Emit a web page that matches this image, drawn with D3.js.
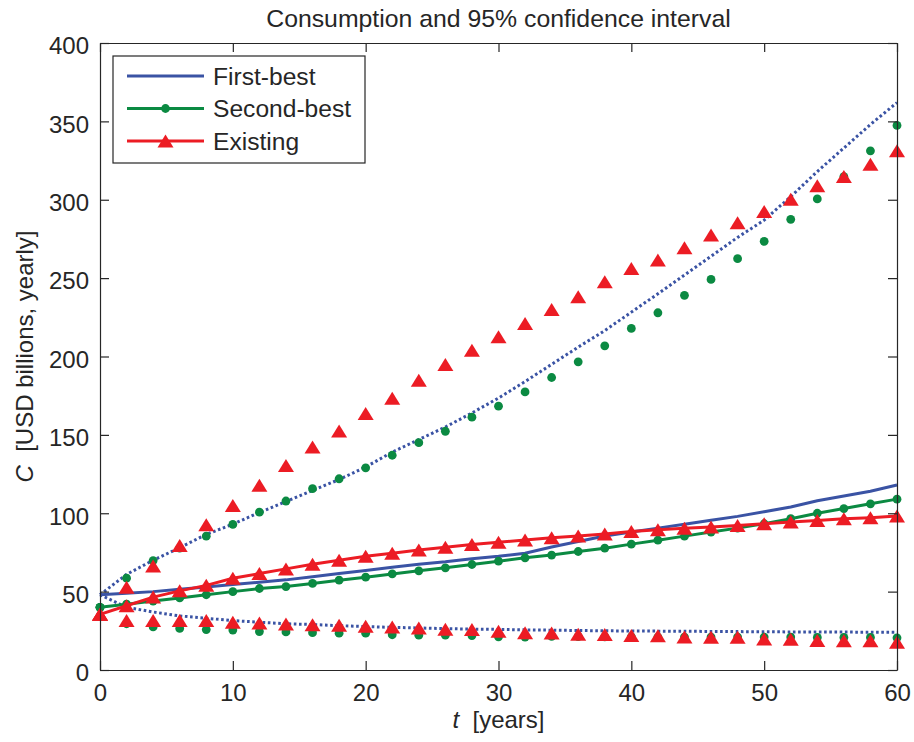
<!DOCTYPE html>
<html>
<head>
<meta charset="utf-8">
<script src="https://cdn.jsdelivr.net/npm/d3@7"></script>
<style>
  body { margin: 0; background: #fff; }
  text { font-family: "Liberation Sans", Arial, sans-serif; fill: #262626; }
  .axis path, .axis line { stroke: #262626; stroke-width: 1.2; }
  .axis text { font-size: 24px; }
</style>
</head>
<body>
<script>
// time grid (years)
var years = [0, 2, 4, 6, 8, 10, 12, 14, 16, 18, 20, 22, 24, 26, 28, 30,
             32, 34, 36, 38, 40, 42, 44, 46, 48, 50, 52, 54, 56, 58, 60];

// mean consumption paths
var firstBest = [48, 49, 50, 51.5, 53, 54.5, 56, 57.5, 59.5, 61.5, 63.5, 65.5, 67.5, 69, 71, 72.5,
                 74.5, 78.5, 82, 85.5, 88, 90.5, 93, 95.5, 98, 101, 104, 108, 111, 114, 118];
var secondBest = [40, 42, 44, 46, 48, 50, 52, 53.2, 55.2, 57.3, 59.2, 61.3, 63.3, 65.2, 67.3, 69.4,
                  71.6, 73.3, 75.6, 77.7, 80.3, 82.8, 85.4, 88, 90.5, 93.3, 96.5, 100, 103, 106, 109];
var existing = [35.5, 41, 46.5, 50.5, 54, 58.5, 61.5, 64.5, 67.5, 70, 72.5, 74.5, 76.5, 78.3, 80, 81.5,
                83, 84.3, 85.5, 86.8, 88.3, 89.5, 90.5, 91.3, 92.2, 93.3, 94.4, 95.4, 96.5, 97.2, 98.2];

// 95% confidence bands
var firstBestUpper = [48, 61, 70, 78, 86.5, 93, 100.5, 107.5, 114.5, 121.5, 129.5, 139, 147, 155, 164, 173.5,
                      184, 195, 206, 216.5, 228.3, 240, 252, 264, 276, 287, 302, 318, 333, 348, 362];
var firstBestLower = [48, 40, 37, 34.5, 33, 31.5, 30.5, 29.5, 29, 28.3, 27.7, 27.2, 26.8, 26.4, 26.1, 25.9,
                      25.6, 25.4, 25.2, 25, 24.9, 24.8, 24.7, 24.6, 24.5, 24.4, 24.3, 24.3, 24.2, 24.1, 24];
var secondBestUpper = [40, 58.6, 69.8, 77.7, 85.4, 92.9, 100.7, 107.8, 115.7, 122, 129, 137, 145, 152.3, 161.3, 168.3,
                       177.4, 186.6, 196.6, 206.8, 217.9, 227.9, 239, 249.2, 262.4, 273.5, 287.5, 300.5, 314.8, 331.2, 347.4];
var secondBestLower = [40, 29.5, 27.5, 26.5, 25.8, 25.5, 24.5, 24.3, 23.8, 23.5, 23.5, 22.5, 22.2, 22.2, 22, 21.2,
                       21, 21.5, 21.3, 21.2, 21.2, 21, 21, 21, 21, 21, 21, 20.8, 20.8, 20.8, 20.5];
var existingUpper = [35.5, 52.8, 66.3, 79.4, 92.7, 105, 117.8, 130.5, 142.3, 152.5, 163.6, 173.4, 184.9, 194.9, 204, 212.6,
                     221.1, 230, 238.1, 247.7, 256.2, 261.5, 269.4, 277.5, 285.3, 292.5, 300.3, 309, 314.8, 322.7, 331.2];
var existingLower = [35.5, 31.5, 31.5, 31.5, 31.5, 30.5, 30, 29.4, 28.8, 28.5, 27.9, 27.5, 26.8, 26, 25.8, 24.7,
                     23.8, 23.6, 22.8, 22.6, 22, 21.9, 21, 20.9, 20.9, 19.8, 19.6, 18.8, 18.7, 18.7, 17.7];

var xTicks = [0, 10, 20, 30, 40, 50, 60];
var yTicks = [0, 50, 100, 150, 200, 250, 300, 350, 400];
var legendNames = ["First-best", "Second-best", "Existing"];

var blue = "#3a53a4", green = "#0b8a42", red = "#ec1c24";

var margin = { top: 43, right: 17, bottom: 72, left: 100 };
var width = 914 - margin.left - margin.right;
var height = 742 - margin.top - margin.bottom;

var x = d3.scaleLinear().domain([0, 60]).range([0, width]);
var y = d3.scaleLinear().domain([0, 400]).range([height, 0]);

var root = d3.select("body").append("svg")
    .attr("width", 914)
    .attr("height", 742);

var svg = root.append("g")
    .attr("transform", "translate(" + margin.left + "," + margin.top + ")");

function pairs(vals) {
  return years.map(function(t, i) { return [t, vals[i]]; });
}

var line = d3.line()
    .x(function(d) { return x(d[0]); })
    .y(function(d) { return y(d[1]); });

// triangle marker, bbox centred on the point
var tri = "M0,-6.5L8,6.5L-8,6.5Z";

function drawLine(vals, color, dotted) {
  var p = svg.append("path")
      .datum(pairs(vals))
      .attr("fill", "none")
      .attr("stroke", color)
      .attr("stroke-width", 3)
      .attr("d", line);
  if (dotted) p.attr("stroke-dasharray", "2.6,2.6");
}

function drawDots(vals) {
  svg.append("g").selectAll("circle")
    .data(pairs(vals))
    .enter().append("circle")
      .attr("cx", function(d) { return x(d[0]); })
      .attr("cy", function(d) { return y(d[1]); })
      .attr("r", 4.4)
      .attr("fill", green);
}

function drawTriangles(vals) {
  svg.append("g").selectAll("path")
    .data(pairs(vals))
    .enter().append("path")
      .attr("d", tri)
      .attr("transform", function(d) { return "translate(" + x(d[0]) + "," + y(d[1]) + ")"; })
      .attr("fill", red);
}

// first-best: solid mean and dotted band
drawLine(firstBest, blue, false);
drawLine(firstBestUpper, blue, true);
drawLine(firstBestLower, blue, true);

// second-best: line with dots, band as dots only
drawLine(secondBest, green, false);
drawDots(secondBest);
drawDots(secondBestUpper);
drawDots(secondBestLower);

// existing: line with triangles, band as triangles only
drawLine(existing, red, false);
drawTriangles(existing);
drawTriangles(existingUpper);
drawTriangles(existingLower);

// axes, ticks pointing inwards on all four sides
svg.append("g")
    .attr("class", "axis")
    .attr("transform", "translate(0," + height + ")")
    .call(d3.axisBottom(x).tickValues(xTicks).tickSizeInner(-9).tickSizeOuter(0).tickPadding(14));

svg.append("g")
    .attr("class", "axis")
    .call(d3.axisLeft(y).tickValues(yTicks).tickSizeInner(-9).tickSizeOuter(0).tickPadding(11))
  .selectAll("text")
    .attr("dy", "0.45em");

svg.append("g")
    .attr("class", "axis")
    .call(d3.axisTop(x).tickValues(xTicks).tickSizeInner(-9).tickSizeOuter(0).tickFormat(""));

svg.append("g")
    .attr("class", "axis")
    .attr("transform", "translate(" + width + ",0)")
    .call(d3.axisRight(y).tickValues(yTicks).tickSizeInner(-9).tickSizeOuter(0).tickFormat(""));

// title and axis labels
root.append("text")
    .attr("x", margin.left + width / 2)
    .attr("y", 27)
    .attr("text-anchor", "middle")
    .style("font-size", "24.8px")
    .text("Consumption and 95% confidence interval");

var xl = root.append("text")
    .attr("x", margin.left + width / 2)
    .attr("y", 728)
    .attr("text-anchor", "middle")
    .style("font-size", "24px");
xl.append("tspan").style("font-style", "italic").text("t");
xl.append("tspan").text("\u00a0 [years]");

var yl = root.append("text")
    .attr("transform", "translate(33," + (margin.top + height / 2) + ") rotate(-90)")
    .attr("text-anchor", "middle")
    .style("font-size", "24px");
yl.append("tspan").style("font-style", "italic").text("C");
yl.append("tspan").text("\u00a0 [USD billions, yearly]");

// legend
var legend = svg.append("g").attr("transform", "translate(13,13)");
legend.append("rect")
    .attr("width", 252)
    .attr("height", 107)
    .attr("fill", "#fff")
    .attr("stroke", "#262626")
    .attr("stroke-width", 1.2);

var legendColors = [blue, green, red];
legendNames.forEach(function(name, i) {
  var ly = 20 + i * 32.5;
  legend.append("line")
      .attr("x1", 14).attr("x2", 91)
      .attr("y1", ly).attr("y2", ly)
      .attr("stroke", legendColors[i])
      .attr("stroke-width", 3);
  if (i == 1) {
    legend.append("circle").attr("cx", 52.5).attr("cy", ly).attr("r", 4.4).attr("fill", green);
  }
  if (i == 2) {
    legend.append("path").attr("d", tri).attr("transform", "translate(52.5," + ly + ")").attr("fill", red);
  }
  legend.append("text")
      .attr("x", 100)
      .attr("y", ly)
      .attr("dy", "0.35em")
      .style("font-size", "24.6px")
      .text(name);
});
</script>
</body>
</html>
